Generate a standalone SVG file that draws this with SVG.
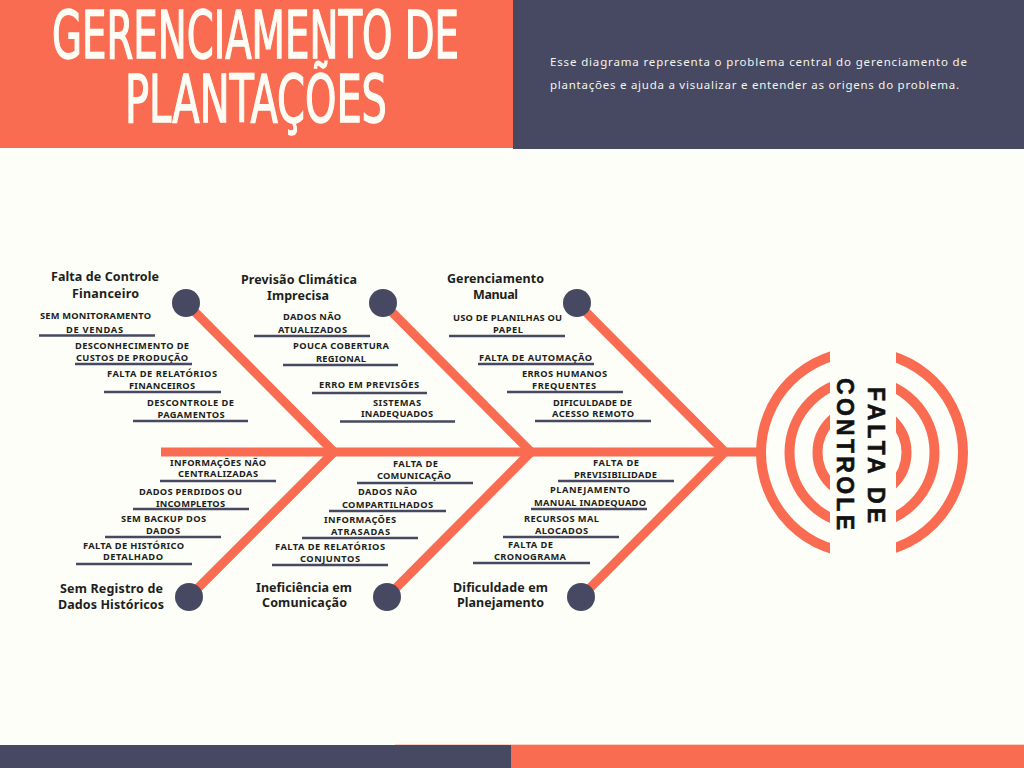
<svg xmlns="http://www.w3.org/2000/svg" width="1024" height="768" viewBox="0 0 1024 768">
<style>
.bg{fill:#FCFEF7}
.or{fill:#F96C52}
.dk{fill:#464961}
.title{font-family:"DejaVu Sans Condensed","Liberation Sans Narrow","Liberation Sans",sans-serif;font-weight:400;font-size:66px;fill:#FDFDF5;stroke:#FDFDF5;stroke-width:1.4;text-anchor:middle}
.desc{font-family:"Noto Sans","Liberation Sans",sans-serif;font-size:11.5px;fill:#F4F4EE}
.hd{font-family:"Noto Sans","Liberation Sans",sans-serif;font-weight:700;font-size:12.5px;fill:#1E1E1E;text-anchor:middle}
.sm{font-family:"Noto Sans","Liberation Sans",sans-serif;font-weight:700;font-size:9.3px;fill:#1E1E1E;text-anchor:middle}
.ul{stroke:#464961;stroke-width:2.6;fill:none}
.bone{stroke:#F96C52;stroke-width:9;fill:none}
.arc{stroke:#F96C52;stroke-width:10;fill:none}
.dot{fill:#464961}
.head{font-family:"Liberation Sans","Noto Sans",sans-serif;font-weight:700;font-size:23px;fill:#111111;stroke:#111111;stroke-width:0.6;text-anchor:middle}
</style>
<defs>
<clipPath id="gap">
<rect x="700" y="330" width="130" height="250"/>
<rect x="896" y="330" width="110" height="250"/>
</clipPath>
</defs>
<rect class="bg" x="0" y="0" width="1024" height="768"/>
<g id="header">
<rect class="or" x="0" y="0" width="513" height="148"/>
<rect class="dk" x="513" y="0" width="511" height="149"/>
<text class="title" x="255.5" y="58" textLength="407" lengthAdjust="spacingAndGlyphs">GERENCIAMENTO DE</text>
<text class="title" x="256" y="122" textLength="262" lengthAdjust="spacingAndGlyphs">PLANTAÇÕES</text>
<text class="desc" x="550" y="66" textLength="417">Esse diagrama representa o problema central do gerenciamento de</text>
<text class="desc" x="550" y="89" textLength="409">plantações e ajuda a visualizar e entender as origens do problema.</text>
</g>
<g id="footer">
<rect class="or" x="395" y="744.5" width="629" height="24" opacity="0.6"/>
<rect class="or" x="511" y="745" width="513" height="23"/>
<rect class="dk" x="0" y="745" width="511" height="23"/>
</g>
<g id="connectors">
<line class="bone" x1="161" y1="452" x2="758" y2="452"/>
<line class="bone" x1="186" y1="303" x2="334" y2="452"/>
<line class="bone" x1="189" y1="597" x2="334" y2="452"/>
<line class="bone" x1="383" y1="303" x2="531" y2="452"/>
<line class="bone" x1="387" y1="597" x2="531" y2="452"/>
<line class="bone" x1="577" y1="303" x2="725" y2="452"/>
<line class="bone" x1="581" y1="597" x2="725" y2="452"/>
</g>
<g id="problem">
<g clip-path="url(#gap)">
<circle class="arc" cx="862" cy="452.5" r="101"/>
<circle class="arc" cx="862" cy="452.5" r="72.5"/>
<circle class="arc" cx="862" cy="452.5" r="44.5"/>
</g>
<text class="head" transform="translate(868,455) rotate(90)" x="0" y="0" textLength="136">FALTA DE</text>
<text class="head" transform="translate(837,454) rotate(90)" x="0" y="0" textLength="152">CONTROLE</text>
</g>
<g id="cause-financeiro">
<circle class="dot" cx="186" cy="303" r="14"/>
<text class="hd" x="105" y="281" textLength="108">Falta de Controle</text>
<text class="hd" x="105.5" y="298" textLength="67">Financeiro</text>
<text class="sm" x="95.5" y="319" textLength="111">SEM MONITORAMENTO</text>
<text class="sm" x="94.5" y="333" textLength="57">DE VENDAS</text>
<line class="ul" x1="39" y1="335.5" x2="155" y2="335.5"/>
<text class="sm" x="132" y="349" textLength="114">DESCONHECIMENTO DE</text>
<text class="sm" x="132" y="361" textLength="112">CUSTOS DE PRODUÇÃO</text>
<line class="ul" x1="75" y1="364" x2="192" y2="364"/>
<text class="sm" x="162" y="377" textLength="110">FALTA DE RELATÓRIOS</text>
<text class="sm" x="162" y="389" textLength="66">FINANCEIROS</text>
<line class="ul" x1="104" y1="392" x2="221" y2="392"/>
<text class="sm" x="190.5" y="406" textLength="87">DESCONTROLE DE</text>
<text class="sm" x="191" y="418" textLength="67">PAGAMENTOS</text>
<line class="ul" x1="133" y1="421" x2="248" y2="421"/>
</g>
<g id="cause-clima">
<circle class="dot" cx="383" cy="303" r="14"/>
<text class="hd" x="299" y="284" textLength="116">Previsão Climática</text>
<text class="hd" x="298" y="300" textLength="62">Imprecisa</text>
<text class="sm" x="312" y="320" textLength="58">DADOS NÃO</text>
<text class="sm" x="312.5" y="333" textLength="69">ATUALIZADOS</text>
<line class="ul" x1="254" y1="336" x2="370" y2="336"/>
<text class="sm" x="341" y="349" textLength="96">POUCA COBERTURA</text>
<text class="sm" x="341" y="362" textLength="50">REGIONAL</text>
<line class="ul" x1="283" y1="365" x2="398" y2="365"/>
<text class="sm" x="369" y="388" textLength="100">ERRO EM PREVISÕES</text>
<line class="ul" x1="312" y1="393" x2="427" y2="393"/>
<text class="sm" x="397" y="406" textLength="48">SISTEMAS</text>
<text class="sm" x="397" y="417" textLength="72">INADEQUADOS</text>
<line class="ul" x1="340" y1="421.5" x2="455" y2="421.5"/>
</g>
<g id="cause-manual">
<circle class="dot" cx="577" cy="303" r="14"/>
<text class="hd" x="495.5" y="283" textLength="97">Gerenciamento</text>
<text class="hd" x="495.5" y="299" textLength="45">Manual</text>
<text class="sm" x="507.5" y="321" textLength="109">USO DE PLANILHAS OU</text>
<text class="sm" x="508" y="333" textLength="30">PAPEL</text>
<line class="ul" x1="449" y1="336" x2="565" y2="336"/>
<text class="sm" x="535.5" y="361" textLength="113">FALTA DE AUTOMAÇÃO</text>
<line class="ul" x1="478" y1="364" x2="594" y2="364"/>
<text class="sm" x="564.5" y="377" textLength="85">ERROS HUMANOS</text>
<text class="sm" x="564" y="389" textLength="64">FREQUENTES</text>
<line class="ul" x1="507" y1="392" x2="623" y2="392"/>
<text class="sm" x="592.5" y="406" textLength="79">DIFICULDADE DE</text>
<text class="sm" x="593" y="417" textLength="82">ACESSO REMOTO</text>
<line class="ul" x1="535" y1="421" x2="651" y2="421"/>
</g>
<g id="cause-historico">
<circle class="dot" cx="189" cy="597" r="14"/>
<text class="sm" x="218" y="466" textLength="96">INFORMAÇÕES NÃO</text>
<text class="sm" x="218" y="477" textLength="80">CENTRALIZADAS</text>
<line class="ul" x1="160" y1="481" x2="276" y2="481"/>
<text class="sm" x="190.5" y="495" textLength="103">DADOS PERDIDOS OU</text>
<text class="sm" x="190.5" y="507" textLength="69">INCOMPLETOS</text>
<line class="ul" x1="133" y1="509" x2="249" y2="509"/>
<text class="sm" x="163.5" y="522" textLength="85">SEM BACKUP DOS</text>
<text class="sm" x="163" y="534" textLength="34">DADOS</text>
<line class="ul" x1="105" y1="537" x2="221" y2="537"/>
<text class="sm" x="133.5" y="549" textLength="101">FALTA DE HISTÓRICO</text>
<text class="sm" x="133" y="560" textLength="60">DETALHADO</text>
<line class="ul" x1="76" y1="564" x2="192" y2="564"/>
<text class="hd" x="111.5" y="593" textLength="103">Sem Registro de</text>
<text class="hd" x="111" y="609" textLength="106">Dados Históricos</text>
</g>
<g id="cause-comunicacao">
<circle class="dot" cx="387" cy="597" r="14"/>
<text class="sm" x="415.5" y="467" textLength="45">FALTA DE</text>
<text class="sm" x="414" y="479" textLength="74">COMUNICAÇÃO</text>
<line class="ul" x1="357" y1="483" x2="473" y2="483"/>
<text class="sm" x="387.5" y="495" textLength="59">DADOS NÃO</text>
<text class="sm" x="387.5" y="508" textLength="91">COMPARTILHADOS</text>
<line class="ul" x1="329" y1="511" x2="446" y2="511"/>
<text class="sm" x="360" y="523" textLength="72">INFORMAÇÕES</text>
<text class="sm" x="360.5" y="535" textLength="59">ATRASADAS</text>
<line class="ul" x1="302" y1="538" x2="418" y2="538"/>
<text class="sm" x="330" y="550" textLength="110">FALTA DE RELATÓRIOS</text>
<text class="sm" x="330" y="562" textLength="60">CONJUNTOS</text>
<line class="ul" x1="272" y1="565" x2="388" y2="565"/>
<text class="hd" x="304" y="592" textLength="96">Ineficiência em</text>
<text class="hd" x="304.5" y="607" textLength="85">Comunicação</text>
</g>
<g id="cause-planejamento">
<circle class="dot" cx="581" cy="597" r="14"/>
<text class="sm" x="616" y="466" textLength="46">FALTA DE</text>
<text class="sm" x="615.5" y="478" textLength="83">PREVISIBILIDADE</text>
<line class="ul" x1="558" y1="481" x2="674" y2="481"/>
<text class="sm" x="590" y="493" textLength="80">PLANEJAMENTO</text>
<text class="sm" x="590" y="506" textLength="112">MANUAL INADEQUADO</text>
<line class="ul" x1="531" y1="509" x2="647" y2="509"/>
<text class="sm" x="561.5" y="522" textLength="75">RECURSOS MAL</text>
<text class="sm" x="561.5" y="534" textLength="53">ALOCADOS</text>
<line class="ul" x1="503" y1="537" x2="619" y2="537"/>
<text class="sm" x="530.5" y="548" textLength="45">FALTA DE</text>
<text class="sm" x="530" y="560" textLength="72">CRONOGRAMA</text>
<line class="ul" x1="473" y1="563" x2="590" y2="563"/>
<text class="hd" x="500.5" y="592" textLength="95">Dificuldade em</text>
<text class="hd" x="500.5" y="607" textLength="87">Planejamento</text>
</g>
</svg>
